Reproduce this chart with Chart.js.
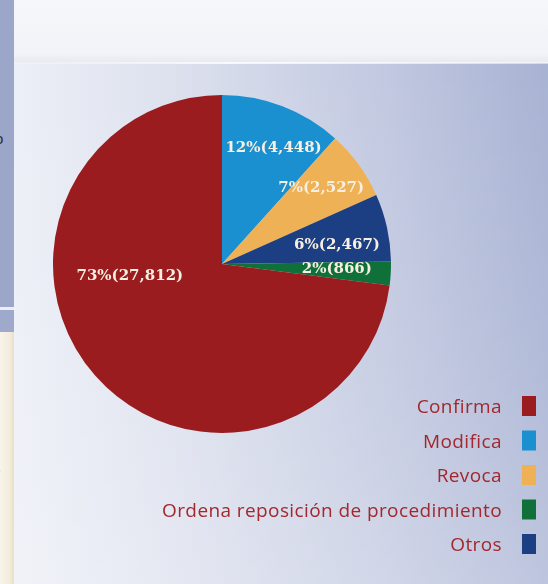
<!DOCTYPE html>
<html>
<head>
<meta charset="utf-8">
<script src="https://cdn.jsdelivr.net/npm/chart.js@4"></script>
<style>
  html, body { margin: 0; padding: 0; }
  body { width: 548px; height: 584px; position: relative; overflow: hidden; background: #f3f4f9; }
  .top { position: absolute; left: 14px; top: 0; width: 534px; height: 63px;
         background: linear-gradient(to bottom, #f6f7fb 0%, #f2f3f8 85%, #e7e9f1 100%); }
  .panel { position: absolute; left: 14px; top: 63px; width: 534px; height: 521px;
           background: linear-gradient(to right, #eceff6 0%, #dde1ee 30%, #c1c8e0 70%, #a8b2d3 100%); }
  .panel::after { content: ''; position: absolute; inset: 0;
           background: linear-gradient(to bottom, rgba(255,255,255,0) 0%, rgba(255,255,255,0.12) 60%, rgba(255,255,255,0.25) 100%); }
  .edge { position: absolute; left: 14px; top: 62px; width: 534px; height: 2px;
          background: linear-gradient(to right, rgba(255,255,255,0.2), rgba(255,255,255,0.8) 40%, rgba(255,255,255,0.5)); }
  .strip1 { position: absolute; left: 0; top: 0; width: 14px; height: 307px; background: #9ba6c9; }
  .strip2 { position: absolute; left: 0; top: 307px; width: 14px; height: 3px; background: #eceef4; }
  .strip3 { position: absolute; left: 0; top: 310px; width: 14px; height: 22px; background: #9fa9cb; }
  .strip4 { position: absolute; left: 0; top: 332px; width: 14px; height: 252px;
            background: linear-gradient(to right, #f8f4ea 0%, #f3ecdb 70%, #e9dfc4 100%); }
  .frag { position: absolute; font-family: "Liberation Sans", sans-serif; font-size: 15px; }
  canvas { position: absolute; left: 0; top: 0; }
</style>
</head>
<body>
<div class="top"></div>
<div class="panel"></div>
<div class="edge"></div>
<div class="strip1"></div>
<div class="strip2"></div>
<div class="strip3"></div>
<div class="strip4"></div>
<div class="frag" style="left:-5px; top:130px; color:#2a2d3a;">o</div>
<div class="frag" style="left:-3px; top:458px; color:#2a4f9a;">.</div>
<canvas id="pie" width="548" height="584"></canvas>
<script>
// data, clockwise from 12 o'clock
const labels = ['Modifica', 'Revoca', 'Otros', 'Ordena reposición de procedimiento', 'Confirma'];
const values = [4448, 2527, 2467, 866, 27812];
const percents = [12, 7, 6, 2, 73];
const colors = ['#1a90d1', '#efb156', '#1c3e82', '#10703a', '#9a1c1f'];
// legend reads top to bottom in this order
const legendOrder = [4, 0, 1, 3, 2];

// where each value label sits: angle from top (deg, clockwise), fraction of radius
const labelSpots = [[24, 0.75], [52.5, 0.74], [80.6, 0.69], [92.5, 0.68], [262.6, 0.55]];

const valueLabels = {
  id: 'valueLabels',
  afterDatasetsDraw(chart) {
    const ctx = chart.ctx;
    const meta = chart.getDatasetMeta(0);
    ctx.save();
    ctx.font = 'bold 15px "DejaVu Serif", serif';
    ctx.fillStyle = '#f6efe2';
    ctx.textAlign = 'center';
    ctx.textBaseline = 'middle';
    meta.data.forEach((arc, i) => {
      const p = arc.getProps(['x', 'y', 'outerRadius'], true);
      const a = labelSpots[i][0] * Math.PI / 180;
      const r = p.outerRadius * labelSpots[i][1];
      const txt = percents[i] + '%(' + values[i].toLocaleString('en-US') + ')';
      ctx.fillText(txt, p.x + r * Math.sin(a), p.y - r * Math.cos(a));
    });
    ctx.restore();
  }
};

const sideLegend = {
  id: 'sideLegend',
  afterDraw(chart) {
    const ctx = chart.ctx;
    const textRight = chart.width - 46;
    const boxLeft = chart.width - 26;
    ctx.save();
    ctx.font = '19px "Open Sans", sans-serif';
    ctx.letterSpacing = '0.4px';
    ctx.textAlign = 'right';
    ctx.textBaseline = 'middle';
    legendOrder.forEach((idx, row) => {
      const y = 406 + row * 34.5;
      ctx.fillStyle = '#a2282d';
      ctx.fillText(labels[idx], textRight, y + 2);
      ctx.fillStyle = colors[idx];
      ctx.fillRect(boxLeft, y - 10, 14, 20);
    });
    ctx.restore();
  }
};

const pieChart = new Chart(document.getElementById('pie').getContext('2d'), {
  type: 'pie',
  data: {
    labels: labels,
    datasets: [{
      data: values,
      backgroundColor: colors,
      borderWidth: 0
    }]
  },
  options: {
    responsive: false,
    animation: false,
    events: [],
    layout: { padding: { left: 53, right: 157, top: 95, bottom: 151 } },
    plugins: {
      legend: { display: false },
      tooltip: { enabled: false }
    }
  },
  plugins: [valueLabels, sideLegend]
});
</script>
</body>
</html>
